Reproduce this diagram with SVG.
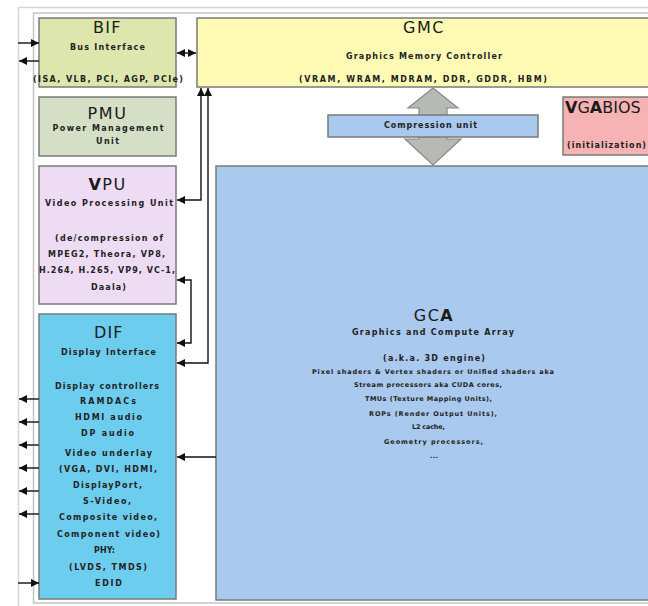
<svg xmlns="http://www.w3.org/2000/svg" width="648" height="606" viewBox="0 0 648 606">
<defs>
<marker id="ah" viewBox="0 0 8 8" markerWidth="8" markerHeight="8" refX="8" refY="4" orient="auto-start-reverse" markerUnits="userSpaceOnUse">
<path d="M0,0 L8,4 L0,8 z" fill="#111"/>
</marker>
<style>
.box{stroke:#7a7a7a;stroke-width:1.5}
.t{font-family:"DejaVu Sans",sans-serif;font-size:16px;fill:#1a1a1a;text-anchor:middle;letter-spacing:1.5px}
.s{font-family:"DejaVu Sans",sans-serif;font-size:8px;font-weight:bold;fill:#222;text-anchor:middle}
.xs{font-family:"DejaVu Sans",sans-serif;font-size:6.5px;font-weight:bold;fill:#222;text-anchor:middle}
.c{fill:none;stroke:#111;stroke-width:1.4}
</style>
</defs>
<rect x="0" y="0" width="648" height="606" fill="#fff"/>
<rect x="18.5" y="7.5" width="700" height="700" fill="#fff" stroke="#d6d6d6" stroke-width="1.5"/>
<rect x="33.5" y="13" width="700" height="590" fill="#fff" stroke="#c4c4c4" stroke-width="1.5"/>

<g id="BIF">
<rect class="box" x="39" y="18" width="137" height="69" fill="#dde6ad"/>
<text class="t" x="107.5" y="33" textLength="29">BIF</text>
<text class="s" x="107.5" y="50" textLength="75">Bus Interface</text>
<text class="s" x="108" y="82" textLength="150">(ISA, VLB, PCI, AGP, PCIe)</text>
</g>

<g id="PMU">
<rect class="box" x="39" y="97" width="137" height="59" fill="#d5dfc6"/>
<text class="t" x="107.5" y="119" textLength="40">PMU</text>
<text class="s" x="108" y="131" textLength="111">Power Management</text>
<text class="s" x="107.5" y="144" textLength="23">Unit</text>
</g>

<g id="VPU">
<rect class="box" x="39" y="166" width="137" height="138" fill="#eedcf5"/>
<text class="t" x="107.5" y="190"><tspan font-weight="bold">V</tspan>PU</text>
<text class="s" x="109" y="206" textLength="128">Video Processing Unit</text>
<text class="s" x="109" y="241" textLength="108">(de/compression of</text>
<text class="s" x="106.5" y="257" textLength="117">MPEG2, Theora, VP8,</text>
<text class="s" x="107" y="273" textLength="136">H.264, H.265, VP9, VC-1,</text>
<text class="s" x="108.5" y="290" textLength="35">Daala)</text>
</g>

<g id="DIF">
<rect class="box" x="39" y="314" width="137" height="285" fill="#6dcdef"/>
<text class="t" x="109" y="338" textLength="30">DIF</text>
<text class="s" x="108.5" y="355" textLength="95">Display Interface</text>
<text class="s" x="107" y="389" textLength="104">Display controllers</text>
<text class="s" x="108" y="404" textLength="56">RAMDACs</text>
<text class="s" x="108.5" y="420" textLength="67">HDMI audio</text>
<text class="s" x="107.5" y="436" textLength="53">DP audio</text>
<text class="s" x="108.5" y="456" textLength="87">Video underlay</text>
<text class="s" x="108" y="472" textLength="98">(VGA, DVI, HDMI,</text>
<text class="s" x="107.5" y="488" textLength="69">DisplayPort,</text>
<text class="s" x="107" y="504" textLength="48">S-Video,</text>
<text class="s" x="108" y="520" textLength="98">Composite video,</text>
<text class="s" x="108.5" y="537" textLength="103">Component video)</text>
<text class="s" x="104.5" y="553" textLength="21">PHY:</text>
<text class="s" x="108" y="570" textLength="78">(LVDS, TMDS)</text>
<text class="s" x="108.5" y="586" textLength="27">EDID</text>
</g>

<g id="GMC">
<rect class="box" x="197" y="18" width="470" height="69" fill="#fffbb5"/>
<text class="t" x="424" y="33" textLength="42">GMC</text>
<text class="s" x="424" y="59" textLength="156">Graphics Memory Controller</text>
<text class="s" x="423" y="82" textLength="248">(VRAM, WRAM, MDRAM, DDR, GDDR, HBM)</text>
</g>

<g id="VGABIOS">
<rect class="box" x="563" y="97" width="100" height="58" fill="#f7b3b3"/>
<text class="t" x="565" y="113" style="text-anchor:start;letter-spacing:0px"><tspan font-weight="bold">V</tspan>G<tspan font-weight="bold">A</tspan>BIOS</text>
<text class="s" x="567" y="148" style="text-anchor:start" textLength="79">(initialization)</text>
</g>

<g id="GCA">
<rect class="box" x="216" y="166" width="450" height="434" fill="#a9c9ee"/>
<text class="t" x="434" y="321">GC<tspan font-weight="bold">A</tspan></text>
<text class="s" x="433" y="335" textLength="162">Graphics and Compute Array</text>
<text class="s" x="434" y="361" textLength="102">(a.k.a. 3D engine)</text>
<text class="xs" x="433" y="373.5" textLength="242">Pixel shaders &amp; Vertex shaders or Unified shaders aka</text>
<text class="xs" x="428" y="386.5" textLength="148">Stream processors aka CUDA cores,</text>
<text class="xs" x="428.5" y="400.5" textLength="127">TMUs (Texture Mapping Units),</text>
<text class="xs" x="433" y="415.5" textLength="128">ROPs (Render Output Units),</text>
<text class="xs" x="428.5" y="428.5" textLength="33">L2 cache,</text>
<text class="xs" x="433.5" y="443.5" textLength="99">Geometry processors,</text>
<text class="xs" x="434" y="457.5" textLength="8">...</text>
</g>

<g id="memory-link">
<path d="M433,88 L458,108 L447,108 L447,139 L461,139 L433,165 L405,139 L419,139 L419,108 L408,108 Z" fill="#b6bab2" stroke="#888" stroke-width="1.2"/>
</g>

<g id="Compression">
<rect class="box" x="328" y="115" width="210" height="22" fill="#a9c9ee"/>
<text class="s" x="430.5" y="128" textLength="93">Compression unit</text>
</g>

<g id="connectors">
<path class="c" d="M18,43 H39" marker-end="url(#ah)"/>
<path class="c" d="M39,61 H19" marker-end="url(#ah)"/>
<path class="c" d="M177,53 H196" marker-start="url(#ah)" marker-end="url(#ah)"/>
<path class="c" d="M201,88 V200 H177" marker-start="url(#ah)" marker-end="url(#ah)"/>
<path class="c" d="M208,88 V363 H177" stroke="#555" stroke-width="2.2" marker-start="url(#ah)" marker-end="url(#ah)"/>
<path class="c" d="M177,280 H191 V343 H177" marker-start="url(#ah)" marker-end="url(#ah)"/>
<path class="c" d="M216,457 H177" marker-end="url(#ah)"/>
<path class="c" d="M39,399 H19" marker-end="url(#ah)"/>
<path class="c" d="M39,422 H19" marker-end="url(#ah)"/>
<path class="c" d="M39,445 H19" marker-end="url(#ah)"/>
<path class="c" d="M39,468 H19" marker-end="url(#ah)"/>
<path class="c" d="M39,491 H19" marker-end="url(#ah)"/>
<path class="c" d="M39,514 H19" marker-end="url(#ah)"/>
<path class="c" d="M18,583 H39" marker-end="url(#ah)"/>
</g>
</svg>
